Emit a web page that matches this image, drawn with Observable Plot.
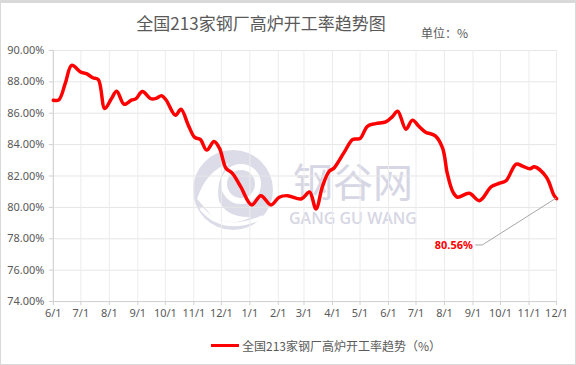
<!DOCTYPE html>
<html><head><meta charset="utf-8">
<script src="https://cdn.jsdelivr.net/npm/d3@7"></script>
<script src="https://cdn.jsdelivr.net/npm/@observablehq/plot@0.6"></script>
<style>
body{margin:0;background:#fff;}
#wrap{position:relative;width:576px;height:365px;box-sizing:border-box;border:1px solid #d9d9d9;border-top:3px solid #d9d9d9;overflow:hidden;font-family:"Noto Sans CJK SC","Noto Sans",sans-serif;color:#595959;}
#title{position:absolute;top:7px;left:0;width:520px;text-align:center;font-size:17px;}
#unit{position:absolute;top:21px;left:420px;font-size:12px;}
#wm{position:absolute;left:0;top:0;width:576px;height:365px;}
#chart{position:absolute;left:0;top:34px;}
#legend{position:absolute;top:334px;left:210px;font-size:12px;display:flex;align-items:center;}
#legend span.sw{display:inline-block;width:28px;height:3px;background:#ff0000;margin-right:3px;}
</style></head>
<body>
<div id="wrap">
  <div id="wm">
    <svg width="576" height="365">
      <circle cx="232" cy="187" r="40" fill="#dcdce8"/>
      <circle cx="240" cy="181" r="17" fill="none" stroke="#ffffff" stroke-width="6"/>
      <path d="M196,196 Q205,168 228,160 Q214,178 218,198 Q226,215 250,214 Q232,224 212,214 Z" fill="#ffffff"/>
      <path d="M200,205 Q222,232 262,214" fill="none" stroke="#ffffff" stroke-width="4"/>
      <text x="352" y="194" text-anchor="middle" font-size="40" fill="#d6d6e4" font-family="Noto Sans CJK SC">钢谷网</text>
      <text x="352" y="221" text-anchor="middle" font-size="16" font-weight="600" fill="#d6d6e4" font-family="Open Sans">GANG GU WANG</text>
    </svg>
  </div>
  <div id="title">全国213家钢厂高炉开工率趋势图</div>
  <div id="unit">单位：%</div>
  <div id="chart"></div>
  <div id="legend"><span class="sw"></span>全国213家钢厂高炉开工率趋势（%）</div>
</div>
<script>
const dates = ["2018-06-01","2018-06-07","2018-06-14","2018-06-21","2018-07-01","2018-07-07","2018-07-14","2018-07-20","2018-07-27","2018-08-03","2018-08-09","2018-08-17","2018-08-25","2018-08-30","2018-09-06","2018-09-15","2018-09-21","2018-09-27","2018-10-02","2018-10-12","2018-10-18","2018-10-26","2018-11-02","2018-11-08","2018-11-15","2018-11-23","2018-11-29","2018-12-06","2018-12-13","2018-12-22","2019-01-03","2019-01-13","2019-01-24","2019-02-02","2019-02-11","2019-02-26","2019-03-07","2019-03-14","2019-03-21","2019-03-28","2019-04-03","2019-04-14","2019-04-23","2019-05-01","2019-05-09","2019-05-18","2019-05-29","2019-06-05","2019-06-11","2019-06-20","2019-06-27","2019-07-04","2019-07-11","2019-07-22","2019-07-30","2019-08-04","2019-08-10","2019-08-15","2019-08-28","2019-09-08","2019-09-21","2019-09-30","2019-10-07","2019-10-18","2019-10-25","2019-11-02","2019-11-07","2019-11-20","2019-11-28","2019-12-01"];
const rates = [86.83,86.85,87.9,89.05,88.62,88.52,88.26,88.14,86.30,86.9,87.40,86.57,86.83,86.93,87.38,86.93,86.95,87.12,86.83,85.87,86.25,85.24,84.46,84.33,83.65,84.2,83.76,82.49,82.17,81.32,80.16,80.75,80.16,80.65,80.75,80.54,80.98,79.90,81.32,82.27,82.53,83.54,84.33,84.39,85.17,85.34,85.45,85.77,86.13,84.98,85.56,85.17,84.81,84.56,83.76,82.17,81.0,80.65,80.9,80.43,81.32,81.54,81.70,82.76,82.63,82.46,82.59,81.92,80.79,80.56];
const yTicks = [74,76,78,80,82,84,86,88,90];
const xTickMonths = ["2018-06-01","2018-07-01","2018-08-01","2018-09-01","2018-10-01","2018-11-01","2018-12-01","2019-01-01","2019-02-01","2019-03-01","2019-04-01","2019-05-01","2019-06-01","2019-07-01","2019-08-01","2019-09-01","2019-10-01","2019-11-01","2019-12-01"];

const parse = d3.utcParse("%Y-%m-%d");
const data = dates.map((d,i)=>({date: parse(d), value: rates[i]}));
const last = data[data.length-1];
const xt = xTickMonths.map(parse);
const fmtY = d => d.toFixed(2) + "%";

const chart = Plot.plot({
  width: 576, height: 296,
  marginTop: 13, marginBottom: 31, marginLeft: 52, marginRight: 19,
  style: {background: "transparent", color: "#595959", fontSize: "11px", fontFamily: "'Noto Sans','Noto Sans CJK SC',sans-serif"},
  x: {type: "utc", domain: [xt[0], xt[xt.length-1]], label: null},
  y: {domain: [74, 90], label: null},
  marks: [
    Plot.gridY(yTicks, {stroke: "#e6e6e6", strokeOpacity: 1}),
    Plot.gridX(xt, {stroke: "#ececec", strokeOpacity: 1}),
    Plot.axisY({ticks: yTicks, tickFormat: fmtY, tickSize: 4, tickPadding: 5, stroke: "#d0d0d0"}),
    Plot.axisX({ticks: xt, tickFormat: d3.utcFormat("%-m/%-d"), tickSize: 4, tickPadding: 4, stroke: "#d0d0d0"}),
    Plot.ruleX([xt[0]], {stroke: "#d0d0d0"}),
    Plot.ruleY([74], {stroke: "#d0d0d0"}),
    Plot.line(data, {x: "date", y: "value", stroke: "#ff0000", strokeWidth: 3.5, curve: "catmull-rom"}),
    Plot.text([last], {x: "date", y: "value", text: d => d.value.toFixed(2) + "%", dx: -84, dy: 47, textAnchor: "end", fill: "#ff0000", fontWeight: "bold", fontSize: 11})
  ]
});
document.getElementById("chart").appendChild(chart);
const px = chart.scale("x").apply(last.date), py = chart.scale("y").apply(last.value);
d3.select(chart).append("path")
  .attr("d", `M${px},${py}L${px-74},${py+47}L${px-81},${py+47}`)
  .attr("fill", "none").attr("stroke", "#a6a6a6").attr("stroke-width", 1);
</script>
</body></html>
